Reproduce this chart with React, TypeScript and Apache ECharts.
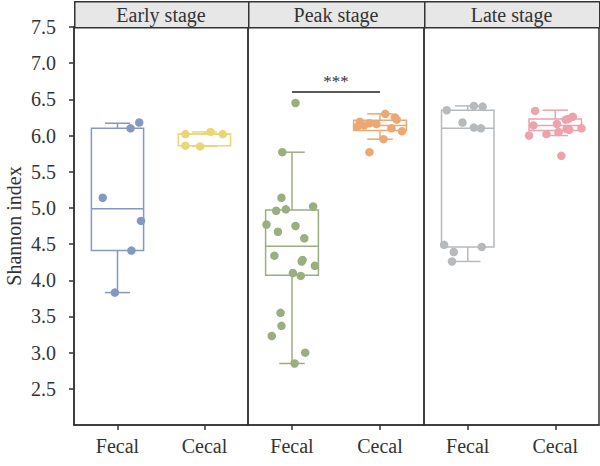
import React, { useEffect, useRef } from "react";
import * as echarts from "echarts";

const STAGES = ["Early stage", "Peak stage", "Late stage"];
const SITES = ["Fecal", "Cecal"];
const Y_TICKS = [2.5, 3.0, 3.5, 4.0, 4.5, 5.0, 5.5, 6.0, 6.5, 7.0, 7.5];

// individual samples (Shannon index) and horizontal jitter (fraction of category width)
const EARLY_FECAL = [6.18, 6.10, 5.14, 4.82, 4.41, 3.83];
const EARLY_FECAL_JIT = [0.25, 0.15, -0.17, 0.27, 0.16, -0.03];
const EARLY_CECAL = [6.05, 6.02, 6.02, 5.86, 5.85];
const EARLY_CECAL_JIT = [0.07, -0.22, 0.21, -0.22, -0.05];

const PEAK_FECAL = [6.45, 5.77, 5.14, 4.96, 4.98, 5.02, 4.77, 4.75, 4.67, 4.58, 4.34, 4.28, 4.26, 4.2, 4.1, 4.06, 3.55, 3.37, 3.23, 3.0, 2.85];
const PEAK_FECAL_JIT = [0.04, -0.11, -0.12, -0.18, -0.07, 0.24, -0.29, 0.04, -0.16, 0.14, -0.2, 0.12, 0.11, 0.26, 0.01, 0.1, -0.13, -0.12, -0.23, 0.15, 0.03];
const PEAK_CECAL = [6.3, 6.25, 6.22, 6.19, 6.17, 6.16, 6.14, 6.12, 6.1, 6.06, 5.95, 5.77];
const PEAK_CECAL_JIT = [0.06, 0.17, 0.19, -0.23, -0.12, -0.04, -0.18, -0.26, 0.13, 0.25, 0.04, -0.12];

const LATE_FECAL = [6.41, 6.4, 6.35, 6.18, 6.11, 6.1, 4.49, 4.46, 4.39, 4.26];
const LATE_FECAL_JIT = [0.07, 0.17, -0.24, -0.06, 0.07, 0.15, -0.27, 0.16, -0.16, -0.18];
const LATE_CECAL = [6.34, 6.26, 6.23, 6.22, 6.16, 6.14, 6.1, 6.09, 6.08, 6.05, 6.02, 6.0, 5.72];
const LATE_CECAL_JIT = [-0.23, 0.2, 0.15, 0.12, 0.02, -0.25, 0.3, 0.13, 0.16, 0.04, -0.1, -0.3, 0.07];

// box statistics: [min, Q1, median, Q3, max]
const EARLY_FECAL_BOX = [3.83, 4.41, 4.99, 6.1, 6.17];
const EARLY_CECAL_BOX = [5.85, 5.86, 6.02, 6.02, 6.05];
const PEAK_FECAL_BOX = [2.85, 4.07, 4.47, 4.97, 5.77];
const PEAK_CECAL_BOX = [5.95, 6.07, 6.14, 6.21, 6.3];
const LATE_FECAL_BOX = [4.26, 4.46, 6.1, 6.35, 6.41];
const LATE_CECAL_BOX = [6.0, 6.07, 6.14, 6.23, 6.35];

const SIG_LEVEL = 6.61;
const SIG_TEXT = "***";

const COLORS = [
  ["#8399c3", "#ebd676"],
  ["#9aae80", "#eca874"],
  ["#b7babd", "#eca3ab"],
];

const PANELS = [
  { fecal: EARLY_FECAL, fj: EARLY_FECAL_JIT, cecal: EARLY_CECAL, cj: EARLY_CECAL_JIT, fbox: EARLY_FECAL_BOX, cbox: EARLY_CECAL_BOX },
  { fecal: PEAK_FECAL, fj: PEAK_FECAL_JIT, cecal: PEAK_CECAL, cj: PEAK_CECAL_JIT, fbox: PEAK_FECAL_BOX, cbox: PEAK_CECAL_BOX },
  { fecal: LATE_FECAL, fj: LATE_FECAL_JIT, cecal: LATE_CECAL, cj: LATE_CECAL_JIT, fbox: LATE_FECAL_BOX, cbox: LATE_CECAL_BOX },
];

const FONT = "Liberation Serif";
const FS = 20;
const GRID_LEFT = [74, 248, 424];
const GRID_WIDTH = [174, 176, 175];
const GRID_TOP = 27;
const GRID_BOTTOM = 41;

function makeBoxRender(colors: string[]) {
  return (params: any, api: any) => {
    const cat = api.value(0);
    const color = colors[cat];
    const bw = api.size([1, 0])[0];
    const half = bw * 0.3;
    const capHalf = bw * 0.145;
    const pMin = api.coord([cat, api.value(1)]);
    const pQ1 = api.coord([cat, api.value(2)]);
    const pMed = api.coord([cat, api.value(3)]);
    const pQ3 = api.coord([cat, api.value(4)]);
    const pMax = api.coord([cat, api.value(5)]);
    const cx = pMed[0];
    const ls = { stroke: color, lineWidth: 1.5, fill: "none" };
    return {
      type: "group",
      children: [
        { type: "line", shape: { x1: cx, y1: pQ3[1], x2: cx, y2: pMax[1] }, style: ls },
        { type: "line", shape: { x1: cx, y1: pQ1[1], x2: cx, y2: pMin[1] }, style: ls },
        { type: "line", shape: { x1: cx - capHalf, y1: pMax[1], x2: cx + capHalf, y2: pMax[1] }, style: ls },
        { type: "line", shape: { x1: cx - capHalf, y1: pMin[1], x2: cx + capHalf, y2: pMin[1] }, style: ls },
        { type: "rect", shape: { x: cx - half, y: pQ3[1], width: half * 2, height: pQ1[1] - pQ3[1] }, style: { stroke: color, lineWidth: 1.5, fill: "rgba(255,255,255,0)" } },
        { type: "line", shape: { x1: cx - half, y1: pMed[1], x2: cx + half, y2: pMed[1] }, style: ls },
      ],
    };
  };
}

export default function App() {
  const ref = useRef<HTMLDivElement>(null);
  useEffect(() => {
    if (!ref.current) return;
    const chart = echarts.init(ref.current, undefined, { renderer: "svg" });

    const grids = PANELS.map((_, i) => ({
      left: GRID_LEFT[i],
      width: GRID_WIDTH[i],
      top: GRID_TOP,
      bottom: GRID_BOTTOM,
      show: true,
      borderColor: "#333",
      borderWidth: 1.5,
      backgroundColor: "transparent",
    }));

    const xAxes: any[] = [];
    PANELS.forEach((_, i) => {
      xAxes.push({
        type: "category",
        gridIndex: i,
        data: SITES,
        boundaryGap: true,
        axisLine: { show: true, lineStyle: { color: "#333", width: 1.5 } },
        axisTick: { show: true, alignWithLabel: true, length: 5, lineStyle: { color: "#333", width: 1.5 } },
        axisLabel: { color: "#333", fontFamily: FONT, fontSize: FS, margin: 11 },
        splitLine: { show: false },
      });
    });
    PANELS.forEach((_, i) => {
      xAxes.push({ type: "value", gridIndex: i, min: 0, max: 2, show: false });
    });

    const yAxes: any[] = PANELS.map((_, i) => ({
      type: "value",
      gridIndex: i,
      min: 2,
      max: 7.5,
      interval: 0.5,
      show: i === 0,
      name: i === 0 ? "Shannon index" : "",
      nameLocation: "middle",
      nameGap: 50,
      nameTextStyle: { color: "#333", fontFamily: FONT, fontSize: FS },
      axisLine: { show: true, lineStyle: { color: "#333", width: 1.5 } },
      axisTick: { show: true, length: 5, customValues: Y_TICKS, lineStyle: { color: "#333", width: 1.5 } },
      axisLabel: {
        color: "#333",
        fontFamily: FONT,
        fontSize: FS,
        margin: 18,
        customValues: Y_TICKS,
        formatter: (v: number) => v.toFixed(1),
      },
      splitLine: { show: false },
    }));

    const series: any[] = [];
    PANELS.forEach((p, i) => {
      series.push({
        type: "custom",
        xAxisIndex: i,
        yAxisIndex: i,
        renderItem: makeBoxRender(COLORS[i]),
        encode: { x: 0, y: [1, 2, 3, 4, 5] },
        data: [
          [0, ...p.fbox],
          [1, ...p.cbox],
        ],
        silent: true,
        z: 2,
      });
    });
    PANELS.forEach((p, i) => {
      const groups = [
        { vals: p.fecal, jit: p.fj, cat: 0 },
        { vals: p.cecal, jit: p.cj, cat: 1 },
      ];
      groups.forEach((g) => {
        const s: any = {
          type: "scatter",
          xAxisIndex: 3 + i,
          yAxisIndex: i,
          symbol: "circle",
          symbolSize: 8.5,
          itemStyle: { color: COLORS[i][g.cat], opacity: 1 },
          data: g.vals.map((v, k) => [g.cat + 0.5 + g.jit[k], v]),
          silent: true,
          z: 3,
        };
        if (i === 1 && g.cat === 0) {
          s.markLine = {
            silent: true,
            symbol: ["none", "none"],
            lineStyle: { color: "#222", width: 1.5, type: "solid" },
            label: { show: true, position: "middle", formatter: SIG_TEXT, color: "#333", fontFamily: FONT, fontSize: 17, distance: 1 },
            data: [[{ coord: [0.5, SIG_LEVEL] }, { coord: [1.5, SIG_LEVEL] }]],
          };
        }
        series.push(s);
      });
    });

    const graphic: any[] = [];
    STAGES.forEach((name, i) => {
      graphic.push({
        type: "rect",
        left: GRID_LEFT[i],
        top: 1,
        shape: { width: GRID_WIDTH[i], height: GRID_TOP - 1 },
        style: { fill: "#e7e7e7", stroke: "#333", lineWidth: 1.5 },
        silent: true,
      });
      graphic.push({
        type: "text",
        x: GRID_LEFT[i] + GRID_WIDTH[i] / 2,
        y: (GRID_TOP + 1) / 2 + 1,
        style: { text: name, fill: "#333", font: `${FS}px "${FONT}"`, align: "center", verticalAlign: "middle" },
        silent: true,
      });
    });

    chart.setOption({
      animation: false,
      backgroundColor: "#fff",
      textStyle: { fontFamily: FONT },
      grid: grids,
      xAxis: xAxes,
      yAxis: yAxes,
      series,
      graphic,
    });
    return () => chart.dispose();
  }, []);
  return <div ref={ref} style={{ position: "fixed", left: 0, top: 0, width: 600, height: 466 }} />;
}
